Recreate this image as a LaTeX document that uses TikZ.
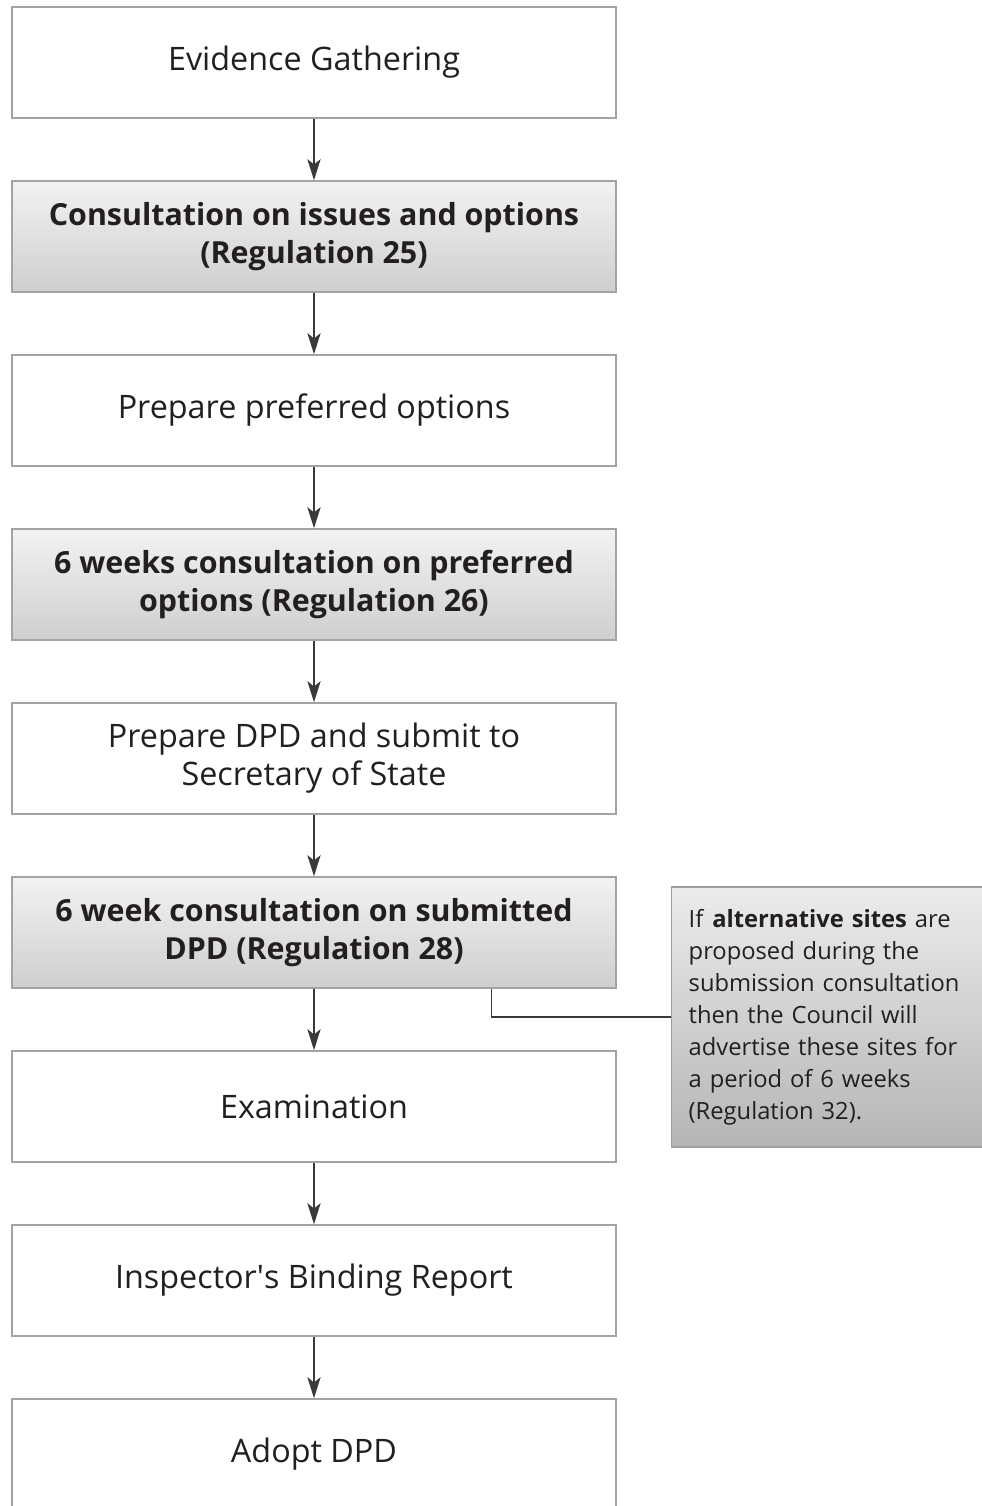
\documentclass[tikz,border=0pt]{standalone}
\usepackage{fontspec}
\setmainfont{Open Sans}
\usepackage{xcolor}
\usetikzlibrary{positioning, calc, arrows.meta}

\definecolor{ink}{HTML}{231F20}
\definecolor{rim}{HTML}{A3A3A3}
\definecolor{wire}{HTML}{3A3A3A}

\begin{document}
\begin{tikzpicture}[
    >={Stealth[length=12pt, width=7.5pt, inset=3pt]},
    stage/.style={draw=rim, line width=0.8pt, align=center, text=ink, minimum width=12.08cm, minimum height=2.22cm, font=\fontsize{18.4}{21.6}\selectfont},
    plain/.style={stage, fill=white},
    shaded/.style={stage, top color=gray!10, bottom color=gray!38, font=\fontsize{17.3}{21.6}\selectfont\bfseries},
    note/.style={draw=gray!75, line width=0.8pt, top color=gray!15, bottom color=gray!58, text=ink, align=left, anchor=west, text width=5.82cm, minimum height=5.2cm, inner xsep=0.34cm, font=\fontsize{13.5}{18.2}\selectfont},
    flow/.style={->, line width=1.1pt, draw=wire},
    link/.style={line width=0.9pt, draw=wire},
]
\useasboundingbox (0,0) rectangle (19.64,-30.12);

\node[plain]  at (6.28, -1.25)  (evid)  {Evidence Gathering};
\node[shaded] at (6.28, -4.73)  (iss)   {Consultation on issues and options\\(Regulation 25)};
\node[plain]  at (6.28, -8.21)  (pref)  {Prepare preferred options};
\node[shaded] at (6.28, -11.69) (cons)  {6 weeks consultation on preferred\\options (Regulation 26)};
\node[plain]  at (6.28, -15.17) (subm)  {Prepare DPD and submit to\\Secretary of State};
\node[shaded] at (6.28, -18.65) (sixwk) {6 week consultation on submitted\\DPD (Regulation 28)};
\node[plain]  at (6.28, -22.13) (exam)  {Examination};
\node[plain]  at (6.28, -25.61) (insp)  {Inspector\textquotesingle s Binding Report};
\node[plain]  at (6.28, -29.09) (adopt) {Adopt DPD};

\foreach \a/\b in {evid/iss, iss/pref, pref/cons, cons/subm, subm/sixwk, sixwk/exam, exam/insp, insp/adopt}
    \draw[flow] (\a) -- (\b);

\node[note] at (13.42, -20.34) (alt) {If \textbf{alternative sites} are\\proposed during the\\submission consultation\\then the Council will\\advertise these sites for\\a period of 6 weeks\\(Regulation 32).};

\coordinate (tap) at ($(sixwk.south west)!0.793!(sixwk.south east)$);
\draw[link] (tap) |- (alt.west);

\end{tikzpicture}
\end{document}
